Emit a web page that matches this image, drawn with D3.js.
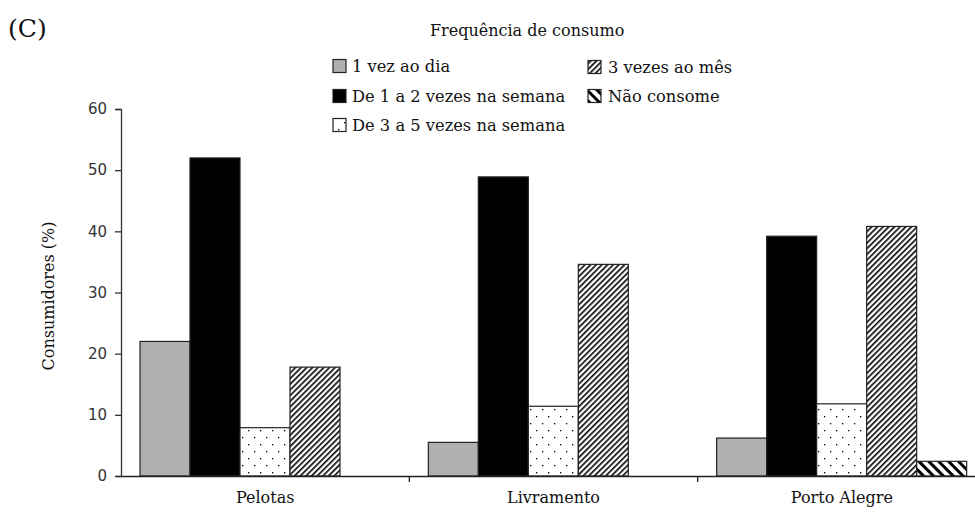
<!DOCTYPE html>
<html><head><meta charset="utf-8">
<script src="https://cdn.jsdelivr.net/npm/d3@7"></script>
<style>body{margin:0;background:#fff}svg{display:block}</style>
</head><body><svg id="c" width="975" height="516"></svg>
<script>
const categories = ["Pelotas", "Livramento", "Porto Alegre"];
const seriesNames = ["1 vez ao dia", "De 1 a 2 vezes na semana", "De 3 a 5 vezes na semana", "3 vezes ao mês", "Não consome"];
const umVezDia = [22, 5.5, 6.2];
const de1a2 = [52, 48.9, 39.2];
const de3a5 = [7.9, 11.4, 11.8];
const tresMes = [17.8, 34.6, 40.8];
const naoConsome = [0, 0, 2.4];
const seriesValues = [umVezDia, de1a2, de3a5, tresMes, naoConsome];
const yTicks = [0, 10, 20, 30, 40, 50, 60];

const svg = d3.select("#c");
const defs = svg.append("defs");
const pDots = defs.append("pattern").attr("id","dots").attr("patternUnits","userSpaceOnUse").attr("width",12).attr("height",14);
pDots.append("rect").attr("width",12).attr("height",14).attr("fill","#fff");
pDots.append("rect").attr("x",2).attr("y",3).attr("width",1.3).attr("height",1.3).attr("fill","#000");
pDots.append("rect").attr("x",8).attr("y",10).attr("width",1.3).attr("height",1.3).attr("fill","#000");
const pHatch = defs.append("pattern").attr("id","hatch").attr("patternUnits","userSpaceOnUse").attr("width",4).attr("height",4).attr("patternTransform","rotate(45)");
pHatch.append("rect").attr("width",4).attr("height",4).attr("fill","#fff");
pHatch.append("rect").attr("width",1.6).attr("height",4).attr("fill","#000");
const pBack = defs.append("pattern").attr("id","back").attr("patternUnits","userSpaceOnUse").attr("width",7).attr("height",7).attr("patternTransform","rotate(-45)");
pBack.append("rect").attr("width",7).attr("height",7).attr("fill","#fff");
pBack.append("rect").attr("width",3).attr("height",7).attr("fill","#000");
const fills = ["#b0b0b0", "#000", "url(#dots)", "url(#hatch)", "url(#back)"];

const x0 = d3.scaleBand().domain(categories).range([121, 986]).padding(0);
const x1 = d3.scaleBand().domain(d3.range(5)).range([19, 269]).padding(0);
const y = d3.scaleLinear().domain([0, 60]).range([476, 109]);

const serif = "'DejaVu Serif',serif";
const sans = "'DejaVu Sans',Verdana,sans-serif";

categories.forEach((c, ci) => {
  seriesValues.forEach((vals, si) => {
    const v = vals[ci];
    if (v <= 0) return;
    svg.append("rect")
      .attr("x", x0(c) + x1(si))
      .attr("y", y(v))
      .attr("width", x1.bandwidth())
      .attr("height", y(0) - y(v))
      .attr("fill", fills[si])
      .attr("stroke", "#222").attr("stroke-width", 1.2);
  });
});

const yAxis = svg.append("g").attr("transform","translate(121,0)")
  .call(d3.axisLeft(y).tickValues(yTicks).tickSize(6).tickPadding(8).tickFormat(d3.format("d")));
yAxis.select(".domain").attr("stroke","#333").attr("stroke-width",1.3);
yAxis.selectAll(".tick line").attr("stroke","#333").attr("stroke-width",1.3);
yAxis.selectAll("text").style("font-family", sans).style("font-size", "15px").attr("fill","#333");

const xAxis = svg.append("g").attr("transform","translate(0,476)")
  .call(d3.axisBottom(x0).tickSize(0).tickPadding(16));
xAxis.select(".domain").attr("stroke","#222").attr("stroke-width",1.5);
xAxis.selectAll("text").style("font-family", serif).style("font-size", "16px").attr("fill","#111");
categories.slice(1).forEach(c => {
  svg.append("line").attr("x1", x0(c)).attr("x2", x0(c)).attr("y1", 476).attr("y2", 482)
    .attr("stroke","#222").attr("stroke-width",1.3);
});

svg.append("text").attr("transform","translate(54,296) rotate(-90)")
  .attr("text-anchor","middle").style("font-family", serif).style("font-size", "16px").attr("fill","#111")
  .text("Consumidores (%)");

svg.append("text").attr("x", 8).attr("y", 37).style("font-family", serif).style("font-size", "25px").attr("fill","#111").text("(C)");

svg.append("text").attr("x", 430).attr("y", 36).style("font-family", serif).style("font-size", "16px").attr("fill","#111").text("Frequência de consumo");
const legPos = [[333,66],[333,96],[333,125],[588,67],[588,96]];
seriesNames.forEach((n, i) => {
  const [lx, ly] = legPos[i];
  svg.append("rect").attr("x", lx).attr("y", ly - 6.5).attr("width", 13).attr("height", 13)
    .attr("fill", fills[i]).attr("stroke","#222").attr("stroke-width",1.2);
  svg.append("text").attr("x", lx + (i < 3 ? 19 : 20)).attr("y", ly + 6).style("font-family", serif).style("font-size", "16.3px").attr("fill","#111").text(n);
});
</script></body></html>
